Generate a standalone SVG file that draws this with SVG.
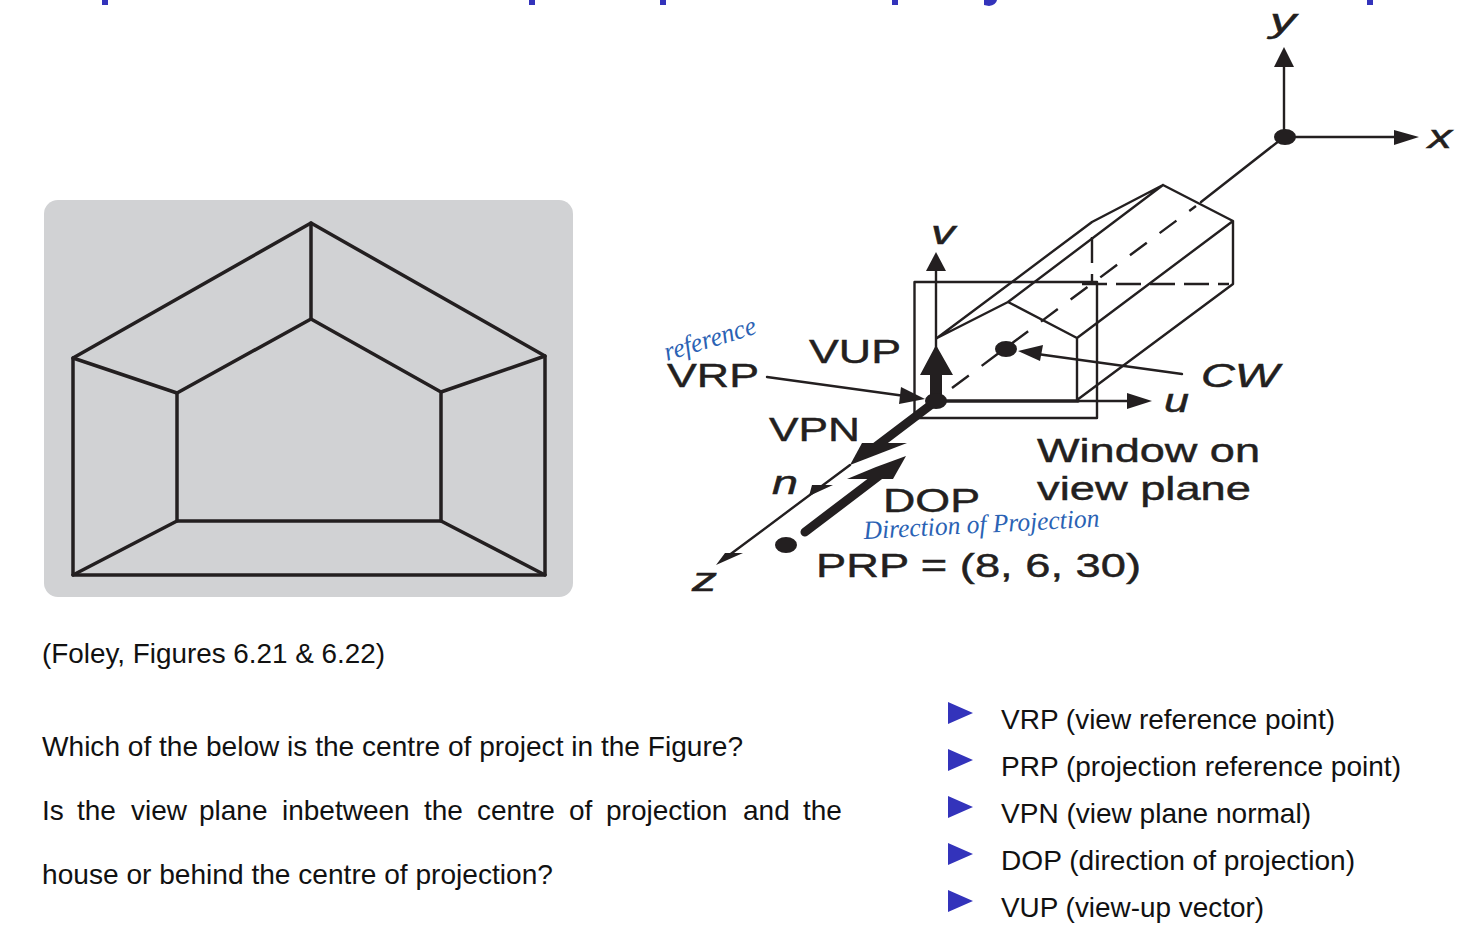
<svg xmlns="http://www.w3.org/2000/svg" width="1478" height="946" viewBox="0 0 1478 946">
<style>
.l{fill:none;stroke:#231f20;stroke-linecap:round;stroke-linejoin:round}
.t{stroke-width:2.4}.h{stroke-width:3.5}
.d{stroke-linecap:butt}
.f{fill:#231f20;stroke:none}
.b{font-family:"Liberation Sans",Arial,sans-serif;font-size:28px;fill:#111}
.s{font-family:"Liberation Sans",Arial,sans-serif;font-size:34px;fill:#231f20;stroke:#231f20;stroke-width:.45}
.i{font-family:"Liberation Sans",Arial,sans-serif;font-size:34px;font-style:italic;fill:#231f20;stroke:#231f20;stroke-width:.5}
.w{font-family:"Liberation Serif",serif;font-style:italic;fill:#2a62b4}
.p{fill:#3333bb}
</style>
<g id="title-fragments" class="p">
<rect x="102" y="0" width="6" height="5"/><rect x="529" y="0" width="6" height="5"/><rect x="660" y="0" width="6" height="5"/><rect x="892" y="0" width="6" height="5"/><path d="M984 0h13q-1 5-8 6l-5-1z"/><rect x="1367" y="0" width="6" height="5"/>
</g>
<g id="house-panel">
<rect x="44" y="200" width="529" height="397" rx="14" fill="#d1d2d4"/>
<g class="l h">
<path d="M73 358L311 223L545 356V575H73Z"/>
<path d="M177 393L311 319L441 392V521H177Z"/>
<path d="M311 223V319M73 358L177 393M545 356L441 392M73 575L177 521M545 575L441 521"/>
</g>
</g>
<g id="connectors">
<path class="l t" d="M1284 137V65M1284 137H1396M1284 137L1201 202"/>
<path class="f" d="M1284 47L1294 67H1274ZM1419 137L1394 130V145Z"/>
<path class="l t" d="M937 338L1008 302L1077 338V400M1008 302L1163 185L1233 221V284L1077 400M1077 338L1233 221M937 338L1092 222L1163 185"/>
<path class="l t d" stroke-dasharray="26 11" d="M1092 237V284"/>
<path class="l t d" stroke-dasharray="25 9" d="M1082 284H1229"/>
<path class="l t d" stroke-dasharray="21 16" d="M952 388L1196 206"/>
<rect class="l t" x="914.500" y="282" width="182.500" height="136"/>
<path class="l t" d="M936 401V270"/><path class="f" d="M936 252L946 271H926Z"/>
<path class="l h" d="M936 401H1078"/><path class="l t" d="M1078 401H1130"/><path class="f" d="M1152 401L1127 393V409Z"/>
<path class="l t" d="M1182 374L1030 353"/><path class="f" d="M1018 351L1043 345L1040 361Z"/>
<path class="l t" d="M767 377L905 396"/><path class="f" d="M925 399L901 387L899 404Z"/>
<path class="f" d="M936 345L953 375H942V401H930V375H920Z"/>
<path class="l" stroke-width="9" d="M936 401L870 451"/>
<path class="f" d="M907 443L850 465L862 443Z"/>
<path class="l t" d="M850 465L728 556"/>
<path class="f" d="M809 496L833 485H812ZM716 565L743 553H725Z"/>
<path class="l" stroke-width="9" d="M805 532L880 475"/>
<path class="f" d="M906 456L893 479H847L876 467Z"/>
<ellipse class="f" cx="1285" cy="137" rx="11" ry="8"/>
<ellipse class="f" cx="936" cy="401" rx="11" ry="8"/>
<ellipse class="f" cx="1006" cy="349" rx="11" ry="8"/>
<ellipse class="f" cx="786" cy="545" rx="11" ry="8"/>
</g>
<g id="diagram-labels">
<text class="i" x="1270" y="32" textLength="26" lengthAdjust="spacingAndGlyphs">y</text>
<text class="i" x="1428" y="148" textLength="24" lengthAdjust="spacingAndGlyphs">x</text>
<text class="i" x="931" y="244" textLength="24" lengthAdjust="spacingAndGlyphs">v</text>
<text class="i" x="1164" y="412" textLength="25" lengthAdjust="spacingAndGlyphs">u</text>
<text class="i" x="772" y="494" textLength="26" lengthAdjust="spacingAndGlyphs">n</text>
<text class="i" x="692" y="591" textLength="25" lengthAdjust="spacingAndGlyphs">z</text>
<text class="i" x="1201" y="387" textLength="78" lengthAdjust="spacingAndGlyphs">CW</text>
<text class="s" x="809" y="363" textLength="92" lengthAdjust="spacingAndGlyphs">VUP</text>
<text class="s" x="667" y="387" textLength="92" lengthAdjust="spacingAndGlyphs">VRP</text>
<text class="s" x="769" y="441" textLength="91" lengthAdjust="spacingAndGlyphs">VPN</text>
<text class="s" x="883" y="512" textLength="97" lengthAdjust="spacingAndGlyphs">DOP</text>
<text class="s" x="816" y="577" textLength="325" lengthAdjust="spacingAndGlyphs">PRP = (8, 6, 30)</text>
<text class="s" x="1037" y="462" textLength="223" lengthAdjust="spacingAndGlyphs">Window on</text>
<text class="s" x="1037" y="500" textLength="214" lengthAdjust="spacingAndGlyphs">view plane</text>
<text class="w" font-size="27" transform="translate(667 361) rotate(-17)" textLength="95" lengthAdjust="spacingAndGlyphs">reference</text>
<text class="w" font-size="26" transform="translate(864 539) rotate(-3)" textLength="236" lengthAdjust="spacingAndGlyphs">Direction of Projection</text>
</g>
<g id="caption">
<text class="b" x="42" y="662.500" textLength="343" lengthAdjust="spacingAndGlyphs">(Foley, Figures 6.21 &amp; 6.22)</text>
<text class="b" x="42" y="755.500" textLength="701" lengthAdjust="spacingAndGlyphs">Which of the below is the centre of project in the Figure?</text>
<text class="b" y="819.500"><tspan x="42">Is</tspan> <tspan x="77">the</tspan> <tspan x="131">view</tspan> <tspan x="199">plane</tspan> <tspan x="282">inbetween</tspan> <tspan x="424">the</tspan> <tspan x="477">centre</tspan> <tspan x="569">of</tspan> <tspan x="606">projection</tspan> <tspan x="743">and</tspan> <tspan x="803">the</tspan></text>
<text class="b" x="42" y="883.500" textLength="511" lengthAdjust="spacingAndGlyphs">house or behind the centre of projection?</text>
</g>
<g id="bullets">
<path class="p" d="M948 702L973 713L948 724ZM948 749L973 760L948 771ZM948 796L973 807L948 818ZM948 843L973 854L948 865ZM948 890L973 901L948 912Z"/>
<text class="b" x="1001" y="728.500" textLength="334" lengthAdjust="spacingAndGlyphs">VRP (view reference point)</text>
<text class="b" x="1001" y="775.500" textLength="400" lengthAdjust="spacingAndGlyphs">PRP (projection reference point)</text>
<text class="b" x="1001" y="822.500" textLength="310" lengthAdjust="spacingAndGlyphs">VPN (view plane normal)</text>
<text class="b" x="1001" y="869.500" textLength="354" lengthAdjust="spacingAndGlyphs">DOP (direction of projection)</text>
<text class="b" x="1001" y="916.500" textLength="263" lengthAdjust="spacingAndGlyphs">VUP (view-up vector)</text>
</g>
</svg>
